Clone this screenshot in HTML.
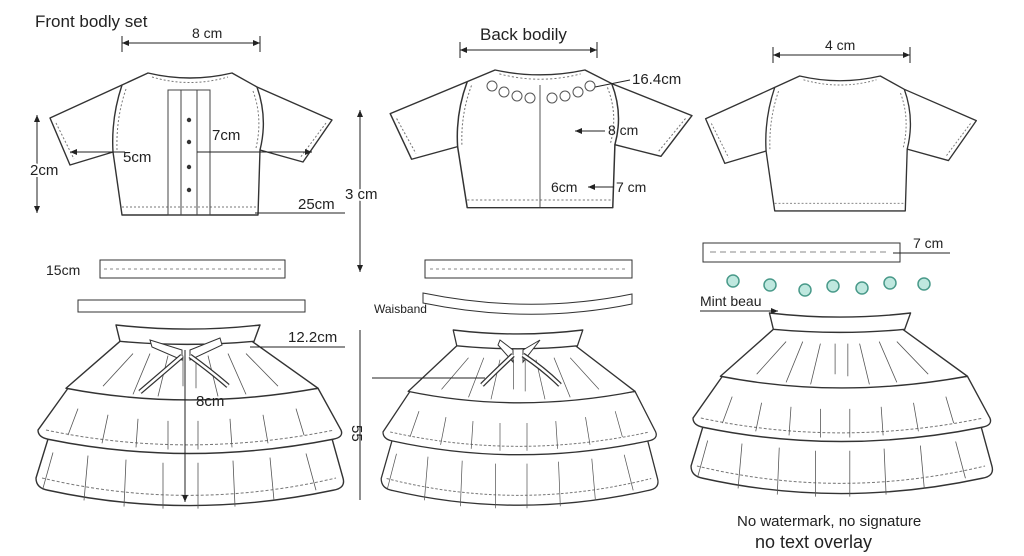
<!DOCTYPE html>
<html><head><meta charset="utf-8"><style>
html,body{margin:0;padding:0;background:#fff;}
svg{display:block}
text{font-family:"Liberation Sans",sans-serif;fill:#222}
</style></head><body>
<svg width="1024" height="556" viewBox="0 0 1024 556" xmlns="http://www.w3.org/2000/svg">
<defs>
<marker id="a" markerWidth="8" markerHeight="8" refX="7" refY="4" orient="auto-start-reverse"><path d="M0,1 L7,4 L0,7 Z" fill="#222"/></marker>
<g id="skirt" stroke-linejoin="round">
  <path d="M-130,80 L-152,150 Q-152,160 -140,162 Q0,192 145,162 Q158,160 155,150 L135,80 Z" fill="#fff" stroke="#333" stroke-width="1.4"/>
  <path d="M-146,150 Q0,184 148,150" fill="none" stroke="#777" stroke-dasharray="3,2"/>
  <path d="M-120,62 L-150,103 Q-150,110 -140,112 Q0,140 145,112 Q156,110 153,103 L130,62 Q0,80 -120,62 Z" fill="#fff" stroke="#333" stroke-width="1.4"/>
  <path d="M-142,103 Q0,132 146,103" fill="none" stroke="#777" stroke-dasharray="3,2"/>
  <path d="M-68,16 L-122,62 Q0,85 130,62 L64,16 Z" fill="#fff" stroke="#333" stroke-width="1.4"/>
  <path d="M-72,0 Q0,8 72,0 L66,16 Q0,22 -68,16 Z" fill="#fff" stroke="#333" stroke-width="1.4"/>
  <g stroke="#555" stroke-width="0.8">
    <path d="M-55,28 L-85,60 M-38,28 L-55,68 M-20,30 L-30,70 M20,30 L30,70 M40,28 L58,68 M58,28 L90,60 M-5,30 L-5,60 M8,30 L8,62"/>
    <path d="M-110,82 L-120,108 M-80,88 L-86,116 M-50,92 L-52,120 M-20,94 L-20,122 M10,94 L10,122 M42,92 L44,120 M75,88 L80,116 M108,82 L116,108"/>
    <path d="M-135,125 L-145,160 M-100,128 L-104,172 M-62,132 L-64,178 M-25,135 L-25,180 M10,135 L10,180 M45,133 L47,178 M82,130 L86,172 M118,126 L128,162"/>
  </g>
</g>
<g id="bod" stroke-linejoin="round">
  <path d="M-42,0 Q0,10 42,0 L67,14 L142,47 L113,89 L70,77 L68,142 L-68,142 L-77,79 L-120,92 L-140,45 L-68,12 Z" fill="#fff" stroke="#333" stroke-width="1.4"/>
  <path d="M-68,12 Q-79,45 -77,79 M67,14 Q78,45 70,77" fill="none" stroke="#333" stroke-width="1.4"/>
  <path d="M-68,134 L68,134 M-134,50 L-116,86 M136,50 L110,85 M-64,16 Q-74,45 -73,77 M63,18 Q73,45 66,75" stroke="#777" stroke-dasharray="2,2" fill="none"/>
  <path d="M-38,4 Q0,15 38,4" stroke="#777" fill="none" stroke-dasharray="2,2"/>
</g>
</defs>

<!-- Left -->
<text x="35" y="27" font-size="17">Front bodly set</text>
<line x1="122" y1="43" x2="260" y2="43" stroke="#222" marker-start="url(#a)" marker-end="url(#a)"/>
<line x1="122" y1="36" x2="122" y2="52" stroke="#222"/><line x1="260" y1="36" x2="260" y2="52" stroke="#222"/>
<text x="192" y="38" font-size="14">8 cm</text>
<use href="#bod" transform="translate(190,73)"/>
<rect x="168" y="90" width="42" height="125" fill="none" stroke="#444"/>
<line x1="181" y1="90" x2="181" y2="215" stroke="#444"/><line x1="197" y1="90" x2="197" y2="215" stroke="#444"/>
<g fill="#333"><circle cx="189" cy="120" r="2.2"/><circle cx="189" cy="142" r="2.2"/><circle cx="189" cy="167" r="2.2"/><circle cx="189" cy="190" r="2.2"/></g>
<line x1="37" y1="115" x2="37" y2="213" stroke="#222" marker-start="url(#a)" marker-end="url(#a)"/>
<text x="30" y="175" font-size="15" fill="#222" style="paint-order:stroke" stroke="#fff" stroke-width="4">2cm</text>
<line x1="70" y1="152" x2="125" y2="152" stroke="#222" marker-start="url(#a)"/>
<text x="123" y="162" font-size="15">5cm</text>
<text x="212" y="140" font-size="15">7cm</text>
<line x1="197" y1="152" x2="312" y2="152" stroke="#222" marker-end="url(#a)"/>
<text x="298" y="209" font-size="15">25cm</text>
<line x1="255" y1="213" x2="345" y2="213" stroke="#222"/>
<line x1="360" y1="110" x2="360" y2="272" stroke="#222" marker-start="url(#a)" marker-end="url(#a)"/>
<text x="345" y="199" font-size="15" style="paint-order:stroke" stroke="#fff" stroke-width="4">3 cm</text>
<text x="46" y="275" font-size="14">15cm</text>
<rect x="100" y="260" width="185" height="18" fill="#fff" stroke="#333"/>
<line x1="104" y1="269" x2="281" y2="269" stroke="#888" stroke-dasharray="3,3"/>
<rect x="78" y="300" width="227" height="12" fill="#fff" stroke="#333"/>
<use href="#skirt" transform="translate(188,325) scale(1,1.02)"/>
<path d="M150,340 L182,350 L182,360 L152,347 Z M220,338 L190,350 L190,360 L222,345 Z" fill="#fff" stroke="#333"/>
<path d="M182,356 Q160,375 140,392 M190,356 Q212,372 228,386" stroke="#333" fill="none" stroke-width="5"/>
<path d="M182,356 Q160,375 140,392 M190,356 Q212,372 228,386" stroke="#fff" fill="none" stroke-width="2.5"/>
<line x1="185" y1="350" x2="185" y2="502" stroke="#222" marker-end="url(#a)"/>
<text x="196" y="406" font-size="15">8cm</text>
<text x="288" y="342" font-size="15">12.2cm</text>
<line x1="250" y1="347" x2="345" y2="347" stroke="#222"/>
<line x1="360" y1="330" x2="360" y2="500" stroke="#222"/>
<text x="352" y="425" font-size="15" transform="rotate(90 352 425)">55</text>

<!-- Middle -->
<text x="480" y="40" font-size="17">Back bodily</text>
<line x1="460" y1="50" x2="597" y2="50" stroke="#222" marker-start="url(#a)" marker-end="url(#a)"/>
<line x1="460" y1="42" x2="460" y2="58" stroke="#222"/><line x1="597" y1="42" x2="597" y2="58" stroke="#222"/>
<use href="#bod" transform="translate(540,70) scale(1.07,0.97)"/>
<line x1="540" y1="85" x2="540" y2="207" stroke="#555"/>
<g fill="none" stroke="#555"><circle cx="492" cy="86" r="5"/><circle cx="504" cy="92" r="5"/><circle cx="517" cy="96" r="5"/><circle cx="530" cy="98" r="5"/><circle cx="552" cy="98" r="5"/><circle cx="565" cy="96" r="5"/><circle cx="578" cy="92" r="5"/><circle cx="590" cy="86" r="5"/></g>
<text x="632" y="84" font-size="15">16.4cm</text>
<line x1="595" y1="87" x2="630" y2="80" stroke="#222"/>
<text x="608" y="135" font-size="14">8 cm</text>
<line x1="575" y1="131" x2="605" y2="131" stroke="#222" marker-start="url(#a)"/>
<text x="551" y="192" font-size="14">6cm</text>
<text x="616" y="192" font-size="14">7 cm</text>
<line x1="588" y1="187" x2="614" y2="187" stroke="#222" marker-start="url(#a)"/>
<rect x="425" y="260" width="207" height="18" fill="#fff" stroke="#333"/>
<line x1="430" y1="269" x2="628" y2="269" stroke="#888" stroke-dasharray="3,3"/>
<path d="M423,293 Q530,315 632,294 L632,304 Q530,325 423,303 Z" fill="#fff" stroke="#333"/>
<text x="374" y="313" font-size="12">Waisband</text>
<use href="#skirt" transform="translate(518,330) scale(0.9,0.99)"/>
<path d="M500,340 L513,350 L513,362 L498,345 Z M540,340 L523,350 L523,362 Z" fill="#fff" stroke="#333"/>
<path d="M513,355 Q495,372 482,385 M523,355 Q545,370 560,385" stroke="#333" fill="none" stroke-width="5"/>
<path d="M513,355 Q495,372 482,385 M523,355 Q545,370 560,385" stroke="#fff" fill="none" stroke-width="2.5"/>
<line x1="372" y1="378" x2="485" y2="378" stroke="#222"/>

<!-- Right -->
<line x1="773" y1="55" x2="910" y2="55" stroke="#222" marker-start="url(#a)" marker-end="url(#a)"/>
<line x1="773" y1="47" x2="773" y2="63" stroke="#222"/><line x1="910" y1="47" x2="910" y2="63" stroke="#222"/>
<text x="825" y="50" font-size="14">4 cm</text>
<use href="#bod" transform="translate(840,76) scale(0.96,0.95)"/>
<rect x="703" y="243" width="197" height="19" fill="#fff" stroke="#333"/>
<line x1="710" y1="252" x2="890" y2="252" stroke="#888" stroke-dasharray="6,4"/>
<text x="913" y="248" font-size="14">7 cm</text>
<line x1="893" y1="253" x2="950" y2="253" stroke="#222"/>
<g fill="#bfe8df" stroke="#4a9a8a" stroke-width="1.5">
<circle cx="733" cy="281" r="6"/><circle cx="770" cy="285" r="6"/><circle cx="805" cy="290" r="6"/><circle cx="833" cy="286" r="6"/><circle cx="862" cy="288" r="6"/><circle cx="890" cy="283" r="6"/><circle cx="924" cy="284" r="6"/></g>
<text x="700" y="306" font-size="14">Mint beau</text>
<line x1="700" y1="311" x2="778" y2="311" stroke="#222" marker-end="url(#a)"/>
<use href="#skirt" transform="translate(840,313) scale(0.98,1.02)"/>
<text x="737" y="526" font-size="15">No watermark, no signature</text>
<text x="755" y="548" font-size="18">no text overlay</text>
</svg>
</body></html>
